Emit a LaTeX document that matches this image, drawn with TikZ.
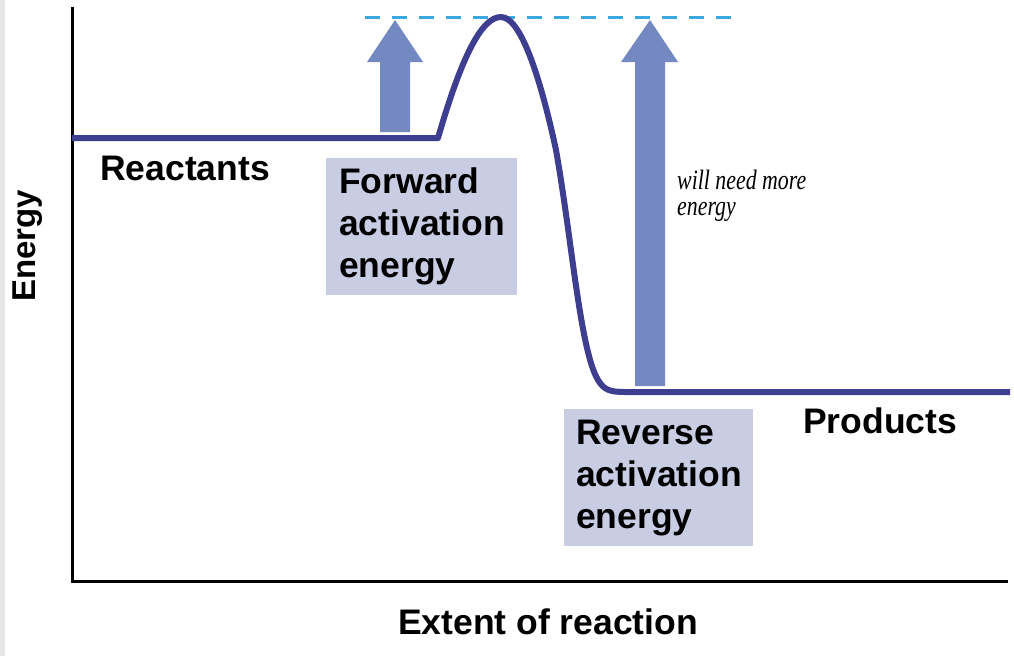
\documentclass[tikz,border=0pt]{standalone}
\usepackage{fontspec}
\setsansfont{Liberation Sans}
\newfontfamily\handfont{Liberation Serif}[FakeStretch=0.78]
\usepackage{xcolor}
\usetikzlibrary{positioning}

\definecolor{curveblue}{RGB}{62,62,145}
\definecolor{arrowblue}{RGB}{116,137,194}
\definecolor{boxblue}{RGB}{200,205,228}
\definecolor{dashblue}{RGB}{60,168,226}
\definecolor{edgegray}{RGB}{230,230,230}

\begin{document}
\begin{tikzpicture}[x=1pt, y=-1pt,
  font=\sffamily\bfseries\fontsize{35.5}{42}\selectfont,
  axis/.style={draw=black, line width=3pt},
  curve/.style={draw=curveblue, line width=6pt, line join=round},
  uparrow/.style={fill=arrowblue},
  level/.style={draw=dashblue, line width=3pt, dash pattern=on 15pt off 12pt},
  lbl/.style={inner sep=0pt},
  infobox/.style={fill=boxblue, minimum height=137pt, text width=165pt, inner xsep=12pt, align=left},
  note/.style={inner sep=0pt, align=left, font=\handfont\itshape\fontsize{28}{26}\selectfont}]
\useasboundingbox (0,0) rectangle (1014,656);
\fill[edgegray] (0,0) rectangle (5,656);
% axes
\coordinate (top) at (72,7);
\coordinate (origin) at (72,581);
\coordinate (right) at (1008,581);
\draw[axis] (top) -- (origin) -- (right);
% level of the transition state
\draw[level] (365,17) -- (735,17);
% energy profile
\draw[curve] (72,138) -- (438,138)
  .. controls (462,55) and (482,17) .. (501,17)
  .. controls (522,17) and (542,85) .. (556,150)
  .. controls (572,240) and (580,350) .. (598,380)
  .. controls (604,390) and (610,392) .. (625,392) -- (1010,392);
% block arrows
\fill[uparrow] (380,132) -- (380,62) -- (367,62) -- (395,20) -- (423,62) -- (410,62) -- (410,132) -- cycle;
\fill[uparrow] (635,386) -- (635,62) -- (621,62) -- (650,20) -- (678,62) -- (665,62) -- (665,386) -- cycle;
% labels
\node[lbl, anchor=base west] (react) at (100,180) {Reactants};
\node[lbl, anchor=base west] (prod) at (803,433) {Products};
\node[infobox, minimum width=191pt, anchor=north west] (fwd) at (326,158) {Forward\\activation\\energy};
\node[infobox, minimum width=188pt, anchor=north west] (rev) at (564,409) {Reverse\\activation\\energy};
\node[note, anchor=north west] (hint) at (677,170) {will need more\\energy};
\node[lbl, rotate=90, font=\sffamily\bfseries\fontsize{33}{40}\selectfont] (ylab) at (28,246) {Energy};
\node[lbl] (xlab) at (548,622) {Extent of reaction};
\end{tikzpicture}
\end{document}
